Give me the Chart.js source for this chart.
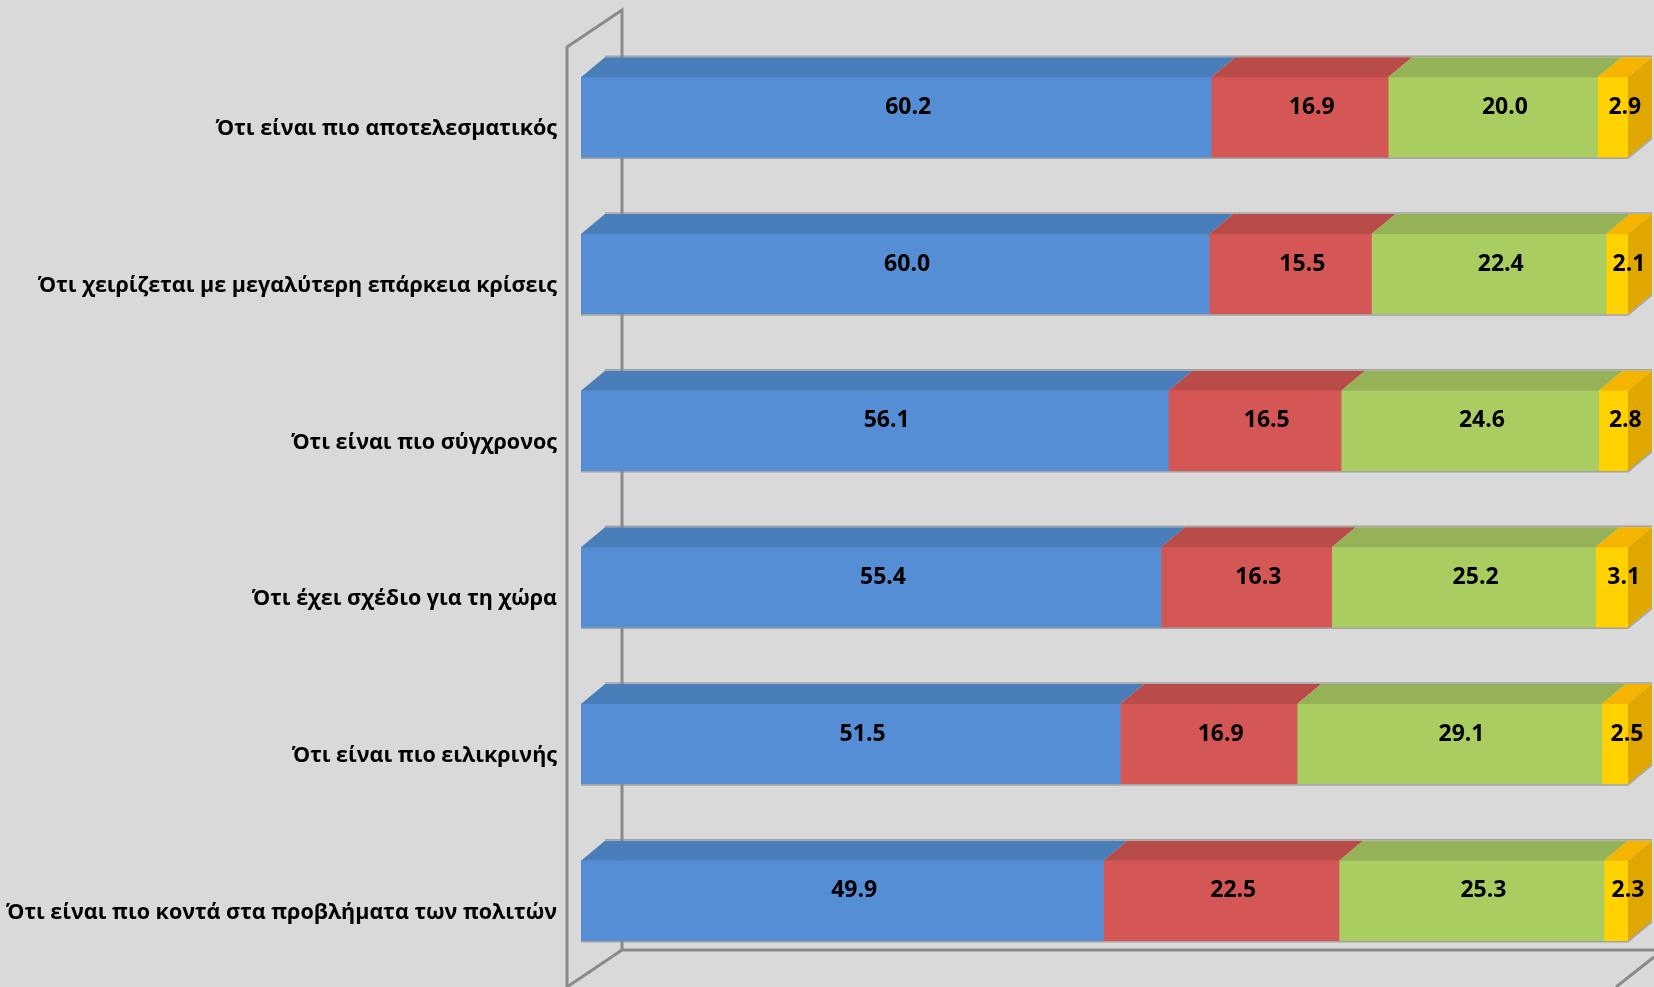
<!DOCTYPE html>
<html>
<head>
<meta charset="utf-8">
<script src="https://cdn.jsdelivr.net/npm/chart.js@4"></script>
<style>
  html, body { margin: 0; padding: 0; background: #d9d9d9; }
  canvas { display: block; }
</style>
</head>
<body>
<canvas id="chart" width="1654" height="987"></canvas>
<script>
const categories = [
  "Ότι είναι πιο αποτελεσματικός",
  "Ότι χειρίζεται με μεγαλύτερη επάρκεια κρίσεις",
  "Ότι είναι πιο σύγχρονος",
  "Ότι έχει σχέδιο για τη χώρα",
  "Ότι είναι πιο ειλικρινής",
  "Ότι είναι πιο κοντά στα προβλήματα των πολιτών"
];

const series1 = [60.2, 60.0, 56.1, 55.4, 51.5, 49.9];
const series2 = [16.9, 15.5, 16.5, 16.3, 16.9, 22.5];
const series3 = [20.0, 22.4, 24.6, 25.2, 29.1, 25.3];
const series4 = [2.9, 2.1, 2.8, 3.1, 2.5, 2.3];

const seriesNames = ["Σειρά 1", "Σειρά 2", "Σειρά 3", "Σειρά 4"];

// front / top / side colours for each series
const frontColors = ["#558ed5", "#d55755", "#aacd62", "#ffd200"];
const topColors = ["#4a7ebb", "#b94b49", "#95b257", "#f5b400"];
const sideColors = ["#3f6ea6", "#a84240", "#86a14c", "#e0a700"];

const DX = 24; // bar depth
const DY = 20;
const valueFont = "bold 23px 'Open Sans'";

// background and the 3D walls/floor
const wallsPlugin = {
  id: "walls",
  beforeDraw(chart) {
    const ctx = chart.ctx;
    ctx.save();
    ctx.fillStyle = "#d9d9d9";
    ctx.fillRect(0, 0, chart.width, chart.height);

    ctx.strokeStyle = "#8a8a8a";
    ctx.lineWidth = 3;
    ctx.beginPath();
    // left side wall
    ctx.moveTo(567, 987);
    ctx.lineTo(567, 47);
    ctx.lineTo(622, 10);
    ctx.lineTo(622, 950);
    // floor
    ctx.lineTo(567, 987);
    ctx.moveTo(622, 950);
    ctx.lineTo(1654, 950);
    ctx.moveTo(1654, 957);
    ctx.lineTo(1616, 987);
    ctx.stroke();
    ctx.restore();
  }
};

// top and side faces of the bars, and the value labels
const facesPlugin = {
  id: "faces",
  afterDatasetsDraw(chart) {
    const ctx = chart.ctx;
    const n = chart.data.datasets.length;
    ctx.save();

    for (let i = 0; i < categories.length; i++) {
      let first = null, last = null;
      for (let d = 0; d < n; d++) {
        const bar = chart.getDatasetMeta(d).data[i];
        const x0 = bar.base, x1 = bar.x;
        const top = bar.y - bar.height / 2;
        const bottom = bar.y + bar.height / 2;
        if (!first) first = { x0, top, bottom };
        last = { x1, top, bottom, d };

        ctx.fillStyle = topColors[d];
        ctx.beginPath();
        ctx.moveTo(x0, top);
        ctx.lineTo(x1, top);
        ctx.lineTo(x1 + DX, top - DY);
        ctx.lineTo(x0 + DX, top - DY);
        ctx.closePath();
        ctx.fill();
      }

      // right side of the last segment
      ctx.fillStyle = sideColors[last.d];
      ctx.beginPath();
      ctx.moveTo(last.x1, last.top);
      ctx.lineTo(last.x1 + DX, last.top - DY);
      ctx.lineTo(last.x1 + DX, last.bottom - DY);
      ctx.lineTo(last.x1, last.bottom);
      ctx.closePath();
      ctx.fill();

      // thin grey shadow edges
      ctx.strokeStyle = "rgba(140,140,140,0.7)";
      ctx.lineWidth = 1.5;
      ctx.beginPath();
      ctx.moveTo(first.x0, first.bottom + 1);
      ctx.lineTo(last.x1, last.bottom + 1);
      ctx.lineTo(last.x1 + DX, last.bottom - DY + 1);
      ctx.moveTo(first.x0 + DX, first.top - DY - 1);
      ctx.lineTo(last.x1 + DX, last.top - DY - 1);
      ctx.stroke();
    }

    // value labels, centred on each block
    ctx.fillStyle = "#000";
    ctx.font = valueFont;
    ctx.textAlign = "center";
    ctx.textBaseline = "middle";
    for (let d = 0; d < n; d++) {
      const meta = chart.getDatasetMeta(d);
      meta.data.forEach((bar, i) => {
        const v = chart.data.datasets[d].data[i];
        const cx = (bar.base + bar.x) / 2 + DX / 2;
        const cy = bar.y - DY / 2;
        ctx.fillText(v.toFixed(1), cx, cy);
      });
    }
    ctx.restore();
  }
};

const allSeries = [series1, series2, series3, series4];

const ctx = document.getElementById("chart").getContext("2d");
new Chart(ctx, {
  type: "bar",
  data: {
    labels: categories,
    datasets: allSeries.map((s, d) => ({
      label: seriesNames[d],
      data: s,
      backgroundColor: frontColors[d],
      borderWidth: 0,
      barThickness: 80
    }))
  },
  options: {
    indexAxis: "y",
    responsive: false,
    animation: false,
    devicePixelRatio: 1,
    layout: { padding: { top: 39, right: 26, bottom: 8, left: 0 } },
    plugins: {
      legend: { display: false },
      tooltip: { enabled: false }
    },
    scales: {
      x: {
        stacked: true,
        min: 0,
        max: 100,
        display: false
      },
      y: {
        stacked: true,
        grid: { display: false, drawTicks: false },
        border: { display: false },
        afterFit(scale) {
          scale.width = 581;
          scale.paddingTop = 0;
          scale.paddingBottom = 0;
        },
        ticks: {
          color: "#000",
          font: { family: "'Open Sans'", size: 21.5, weight: "bold" },
          padding: 24,
          labelOffset: 12,
          autoSkip: false
        }
      }
    }
  },
  plugins: [wallsPlugin, facesPlugin]
});
</script>
</body>
</html>
